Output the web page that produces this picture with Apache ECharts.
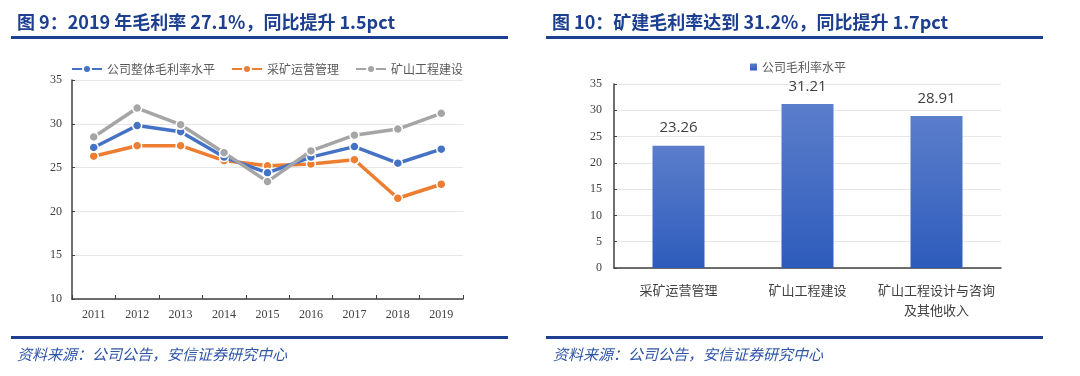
<!DOCTYPE html>
<html>
<head>
<meta charset="utf-8">
<script src="https://cdn.jsdelivr.net/npm/echarts@6/dist/echarts.min.js"></script>
<style>
  html, body { margin: 0; padding: 0; background: #fff; }
  #main { width: 1080px; height: 376px; }
</style>
</head>
<body>
<div id="main"></div>
<script>
const years = ["2011", "2012", "2013", "2014", "2015", "2016", "2017", "2018", "2019"];
const overallMargin = [27.3, 29.8, 29.1, 26.2, 24.4, 26.2, 27.4, 25.5, 27.1];
const miningOpsMargin = [26.3, 27.5, 27.5, 25.8, 25.2, 25.4, 25.9, 21.5, 23.1];
const miningBuildMargin = [28.5, 31.8, 29.9, 26.7, 23.4, 26.9, 28.7, 29.4, 31.2];

const segments = ["采矿运营管理", "矿山工程建设", "矿山工程设计与咨询\n及其他收入"];
const segmentMargin = [23.26, 31.21, 28.91];

const BLUE = "#4472c4";
const ORANGE = "#ed7d31";
const GRAY = "#a5a5a5";
const TITLE_BLUE = "#1c3f8f";
const AXIS_TXT = "#404040";
const CJK = "'Noto Sans CJK SC', sans-serif";
const SERIF = "'Liberation Serif', 'DejaVu Serif', serif";

const lineSeries = (name, data, color, z) => ({
  name,
  type: "line",
  data,
  xAxisIndex: 0,
  yAxisIndex: 0,
  z,
  symbol: "circle",
  symbolSize: 9,
  lineStyle: { color, width: 3.5 },
  itemStyle: { color, borderColor: "#fff", borderWidth: 1.5 },
});

const chart = echarts.init(document.getElementById("main"));
chart.setOption({
  animation: false,
  title: [
    {
      text: "图 9：2019 年毛利率 27.1%，同比提升 1.5pct",
      left: 12, top: 8,
      textStyle: { fontFamily: CJK, fontSize: 18, fontWeight: "bold", color: TITLE_BLUE },
    },
    {
      text: "图 10：矿建毛利率达到 31.2%，同比提升 1.7pct",
      left: 547, top: 8,
      textStyle: { fontFamily: CJK, fontSize: 18, fontWeight: "bold", color: TITLE_BLUE },
    },
    {
      text: "资料来源：公司公告，安信证券研究中心",
      left: 12, top: 342,
      textStyle: { fontFamily: CJK, fontSize: 15, fontWeight: "normal", fontStyle: "italic", color: "#2f55a8" },
    },
    {
      text: "资料来源：公司公告，安信证券研究中心",
      left: 548, top: 342,
      textStyle: { fontFamily: CJK, fontSize: 15, fontWeight: "normal", fontStyle: "italic", color: "#2f55a8" },
    },
  ],
  graphic: [
    { type: "rect", shape: { x: 11, y: 36, width: 497, height: 3 }, style: { fill: TITLE_BLUE } },
    { type: "rect", shape: { x: 546, y: 36, width: 497, height: 3 }, style: { fill: TITLE_BLUE } },
    { type: "rect", shape: { x: 11, y: 336, width: 497, height: 3 }, style: { fill: TITLE_BLUE } },
    { type: "rect", shape: { x: 546, y: 336, width: 497, height: 3 }, style: { fill: TITLE_BLUE } },
  ],
  legend: [
    {
      data: ["公司整体毛利率水平", "采矿运营管理", "矿山工程建设"],
      left: 66, top: 58,
      itemWidth: 30, itemHeight: 10, itemGap: 16,
      textStyle: { fontFamily: CJK, fontSize: 12, color: "#595959" },
    },
    {
      data: ["公司毛利率水平"],
      left: 745, top: 56,
      icon: "rect", itemWidth: 7, itemHeight: 7, itemGap: 4,
      textStyle: { fontFamily: CJK, fontSize: 12, color: "#595959" },
    },
  ],
  grid: [
    { left: 72, right: 617, top: 80, bottom: 77 },
    { left: 614, right: 79, top: 84, bottom: 108 },
  ],
  xAxis: [
    {
      gridIndex: 0,
      type: "category",
      data: years,
      axisLine: { lineStyle: { color: "#404040", width: 1.5 } },
      axisTick: { show: true, inside: true, length: 4, lineStyle: { color: "#404040" } },
      axisLabel: { fontFamily: SERIF, fontSize: 12, color: AXIS_TXT, margin: 10 },
    },
    {
      gridIndex: 1,
      type: "category",
      data: segments,
      axisLine: { lineStyle: { color: "#404040", width: 1.5 } },
      axisTick: { show: false },
      axisLabel: { interval: 0, fontFamily: CJK, fontSize: 13, color: AXIS_TXT, margin: 12, lineHeight: 20 },
    },
  ],
  yAxis: [
    {
      gridIndex: 0,
      type: "value",
      min: 10, max: 35, interval: 5,
      axisLine: { show: true, lineStyle: { color: "#404040", width: 1.5 } },
      axisTick: { show: true, inside: true, length: 3, lineStyle: { color: "#404040" } },
      axisLabel: { fontFamily: SERIF, fontSize: 12, color: AXIS_TXT, margin: 10 },
      splitLine: { lineStyle: { color: "#e6e6e6" } },
    },
    {
      gridIndex: 1,
      type: "value",
      min: 0, max: 35, interval: 5,
      axisLine: { show: true, lineStyle: { color: "#404040", width: 1.5 } },
      axisTick: { show: true, inside: true, length: 3, lineStyle: { color: "#404040" } },
      axisLabel: { fontFamily: SERIF, fontSize: 12, color: AXIS_TXT, margin: 12 },
      splitLine: { lineStyle: { color: "#e6e6e6" } },
    },
  ],
  series: [
    lineSeries("公司整体毛利率水平", overallMargin, BLUE, 3),
    lineSeries("采矿运营管理", miningOpsMargin, ORANGE, 2),
    lineSeries("矿山工程建设", miningBuildMargin, GRAY, 4),
    {
      name: "公司毛利率水平",
      type: "bar",
      xAxisIndex: 1,
      yAxisIndex: 1,
      data: segmentMargin,
      barWidth: 52,
      itemStyle: {
        color: new echarts.graphic.LinearGradient(0, 0, 0, 1, [
          { offset: 0, color: "#5b7ecb" },
          { offset: 1, color: "#2e5cbc" },
        ]),
      },
      label: {
        show: true,
        position: "top",
        distance: 10,
        fontFamily: "'Open Sans', sans-serif",
        fontSize: 15,
        color: AXIS_TXT,
        formatter: (p) => p.value.toFixed(2),
      },
    },
  ],
});
</script>
</body>
</html>
